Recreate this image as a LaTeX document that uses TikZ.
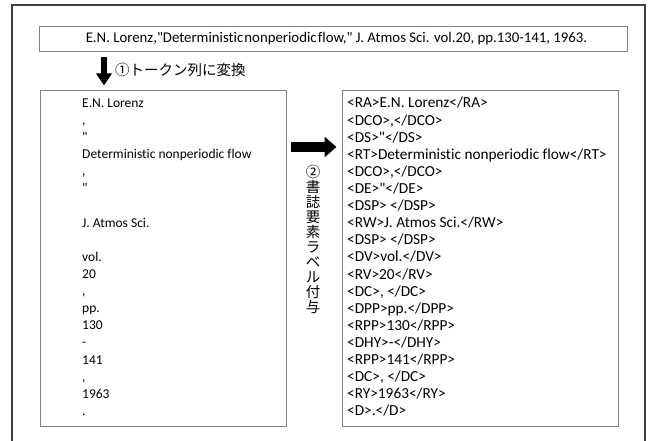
\documentclass[tikz,border=0pt]{standalone}
\usepackage{fontspec}
\setmainfont{Carlito}[Ligatures={TeXOff,CommonOff}]
\newfontfamily\calfont{Carlito}[Ligatures={TeXOff,CommonOff}]
\newfontfamily\jpfont{Noto Sans CJK JP}
\usetikzlibrary{arrows.meta}
\definecolor{framegray}{HTML}{404040}
\definecolor{boxgray}{HTML}{808080}
\newcommand{\narrowsp}[1]{{\spaceskip=0.08em\relax #1}}
\begin{document}
\begin{tikzpicture}[x=1pt,y=-1pt,
  outerframe/.style={draw=framegray,line width=1.4pt},
  tbox/.style={draw=boxgray,line width=0.9pt,rectangle,inner sep=0pt},
  toptxt/.style={font=\calfont\fontsize{14.8}{17.1}\selectfont,inner sep=0pt,anchor=base},
  ltxt/.style={font=\calfont\fontsize{13.5}{17.1}\selectfont,inner sep=0pt,anchor=base west},
  rtxt/.style={font=\calfont\fontsize{15.3}{17.1}\selectfont,inner sep=0pt,anchor=base west},
  jtxt/.style={font=\jpfont\fontsize{14.5}{15}\selectfont,inner sep=0pt}
]
\useasboundingbox (0,0) rectangle (651,441);
% outer frame (open at bottom)
\draw[outerframe] (12,460) -- (12,5) -- (645,5) -- (645,460);
% top box
\node[tbox,minimum width=588pt,minimum height=25pt] (top) at (333,38.5) {};
\node[toptxt] (toptext) at (336.5,43) {E.N. Lorenz,"\narrowsp{Deterministic nonperiodic flow},"\ J. Atmos Sci. vol.20, pp.130-141, 1963.};
% down arrow
\coordinate (d1) at (104,57);
\coordinate (d2) at (104,85.5);
\draw[line width=6.5pt,-{Triangle[width=15pt,length=12pt]}] (d1) -- (d2);
\node[jtxt,anchor=west] (lab1) at (115,70) {①トークン列に変換};
% left and right boxes
\node[tbox,minimum width=246pt,minimum height=336pt] (left) at (163,258) {};
\node[tbox,minimum width=276pt,minimum height=336pt] (right) at (480,258) {};
% left tokens
\foreach \t [count=\i from 0] in {{E.N. Lorenz},{,},{"},{Deterministic nonperiodic flow},{,},{"},{},{J. Atmos Sci.},{},{vol.},{20},{,},{pp.},{130},{-},{141},{,},{1963},{.}}
  \node[ltxt] (l\i) at (82,107.5+17.1*\i) {\t};
% right labelled tokens
\foreach \t [count=\i from 0] in {{<RA>E.N. Lorenz</RA>},{<DCO>,</DCO>},{<DS>"</DS>},{<RT>Deterministic nonperiodic flow</RT>},{<DCO>,</DCO>},{<DE>"</DE>},{<DSP> </DSP>},{<RW>J. Atmos Sci.</RW>},{<DSP> </DSP>},{<DV>vol.</DV>},{<RV>20</RV>},{<DC>, </DC>},{<DPP>pp.</DPP>},{<RPP>130</RPP>},{<DHY>-</DHY>},{<RPP>141</RPP>},{<DC>, </DC>},{<RY>1963</RY>},{<D>.</D>}}
  \node[rtxt] (r\i) at (347,108+17.1*\i) {\t};
% right arrow
\coordinate (a1) at (291,147);
\coordinate (a2) at (336.5,147);
\draw[line width=10pt,-{Triangle[width=20pt,length=12pt]}] (a1) -- (a2);
% vertical label
\foreach \c [count=\i from 0] in {②,書,誌,要,素,ラ,ベ,ル,付,与}
  \node[jtxt,anchor=base] (v\i) at (313,177.5+15*\i) {\c};
\end{tikzpicture}
\end{document}
